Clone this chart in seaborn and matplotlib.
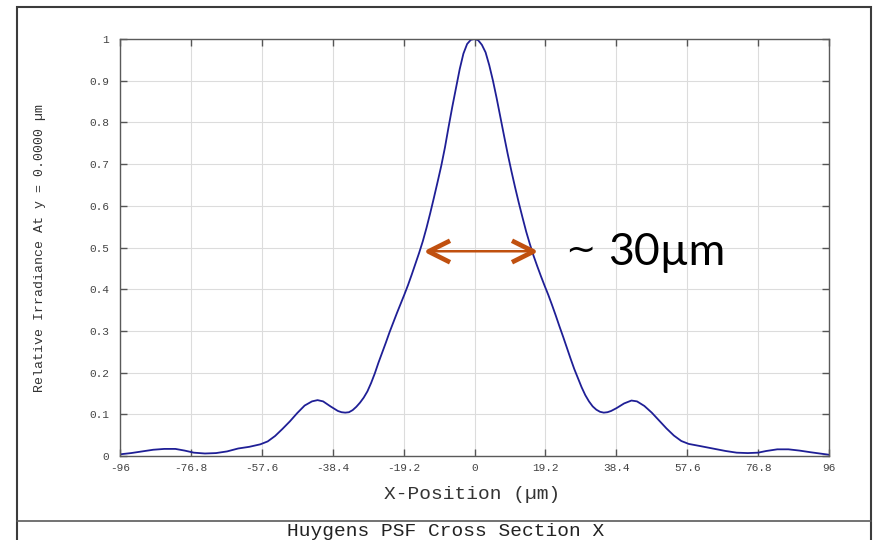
import numpy as np
import pandas as pd
import matplotlib
matplotlib.use("Agg")
import matplotlib.pyplot as plt
from matplotlib.patches import Rectangle
from matplotlib.lines import Line2D
from matplotlib.path import Path
import seaborn as sns

# Huygens PSF cross section along X (relative irradiance at y = 0)
x_pos = [-96, -93, -90, -87, -84, -81, -78.5, -76, -73, -70, -67, -64, -61, -58,
         -56, -54, -52, -50, -48, -46, -44, -42.5, -41, -39, -37,
         -36, -35, -34, -33, -32, -31, -30, -29, -28, -27, -26, -25, -24, -23,
         -22, -21, -20, -19, -18, -17, -16, -15, -14, -13, -12, -11, -10, -9,
         -8, -7, -6, -5, -4, -3, -2, -1, 0, 1, 2, 3, 4, 5, 6, 7, 8, 9, 10, 11,
         12, 13, 14, 15, 16, 17, 18, 19, 20, 21, 22, 23, 24, 25, 26, 27, 28, 29,
         30, 31, 32, 33, 34, 35, 36,
         37, 38.5, 40.5, 42.5, 44, 46, 48, 50, 52, 54, 56, 58, 61, 64.5, 68, 71,
         74, 76.8, 79, 82, 85, 88, 91, 93.5, 96]
irradiance = [0.004, 0.007, 0.011, 0.015, 0.017, 0.017, 0.013, 0.008, 0.006, 0.007,
              0.011, 0.018, 0.022, 0.028, 0.035, 0.048, 0.065, 0.083, 0.103, 0.121,
              0.131, 0.134, 0.131, 0.119, 0.108,
              0.105, 0.104, 0.105, 0.110, 0.118, 0.128, 0.140, 0.155, 0.175, 0.198,
              0.224, 0.248, 0.272, 0.297, 0.320, 0.343, 0.365, 0.387, 0.410, 0.435,
              0.461, 0.487, 0.515, 0.547, 0.582, 0.619, 0.657, 0.696, 0.740, 0.790,
              0.838, 0.883, 0.928, 0.965, 0.988, 0.998, 1.000,
              0.997, 0.986, 0.968, 0.937, 0.900, 0.858, 0.813, 0.768, 0.724, 0.683,
              0.644, 0.607, 0.572, 0.538, 0.508, 0.480, 0.455, 0.431, 0.408, 0.386,
              0.362, 0.337, 0.311, 0.286, 0.260, 0.234, 0.209, 0.187, 0.165, 0.146,
              0.131, 0.119, 0.111, 0.106, 0.104, 0.105,
              0.108, 0.115, 0.126, 0.133, 0.131, 0.120, 0.104, 0.085, 0.066, 0.049,
              0.036, 0.029, 0.024, 0.018, 0.012, 0.008, 0.007, 0.008, 0.012, 0.016,
              0.016, 0.013, 0.009, 0.006, 0.003]

x_ticks = [-96, -76.8, -57.6, -38.4, -19.2, 0, 19.2, 38.4, 57.6, 76.8, 96]
x_tick_labels = ["-96", "-76.8", "-57.6", "-38.4", "-19.2", "0",
                 "19.2", "38.4", "57.6", "76.8", "96"]
y_ticks = [0, 0.1, 0.2, 0.3, 0.4, 0.5, 0.6, 0.7, 0.8, 0.9, 1]
y_tick_labels = ["0", "0.1", "0.2", "0.3", "0.4", "0.5", "0.6", "0.7", "0.8", "0.9", "1"]

# half-maximum width marker
fwhm_left, fwhm_right, fwhm_level = -12.5, 15.9, 0.491
fwhm_approx = "~"
fwhm_text = "30µm"

df = pd.DataFrame({"x": x_pos, "irr": irradiance})

sns.set_theme(style="whitegrid")
plt.rcParams["font.family"] = ["Liberation Mono", "DejaVu Sans Mono"]

fig = plt.figure(figsize=(8.77, 5.40), dpi=100)
fig.patch.set_facecolor("white")
ax = fig.add_axes([120 / 877, 1 - 456 / 540, 709 / 877, 417 / 540])
ax.set_facecolor("white")

sns.lineplot(data=df, x="x", y="irr", ax=ax, color="#1f1f96", linewidth=1.3,
             sort=False, solid_joinstyle="round")

ax.set_xlim(-96, 96)
ax.set_ylim(0, 1)
ax.set_xticks(x_ticks)
ax.set_xticklabels(x_tick_labels)
ax.set_yticks(y_ticks)
ax.set_yticklabels(y_tick_labels)

ax.grid(True, color="#dcdcdc", linewidth=0.8)
for sp in ax.spines.values():
    sp.set_color("#5a5a5a")
    sp.set_linewidth(1.0)
    sp.set_visible(True)

ax.tick_params(axis="both", which="both", direction="in", length=5, width=1,
               color="#555555", labelcolor="#444444", labelsize=8,
               top=True, right=True, bottom=True, left=True)
ax.tick_params(axis="x", pad=5)
ax.tick_params(axis="y", pad=8)

ax.set_xlabel("X-Position (µm)", fontsize=14, color="#333333")
ax.xaxis.set_label_coords(0.497, -0.0935)
ax.xaxis.label.set_verticalalignment("center")
ax.set_ylabel("Relative Irradiance At y = 0.0000 µm", fontsize=9.5, color="#333333")
ax.yaxis.set_label_coords(-0.113, 0.5)
ax.yaxis.label.set_verticalalignment("center")

# FWHM arrow: thin shaft with heavy open chevron heads
arrow_col = "#c0500f"
ax.annotate("", xy=(fwhm_right, fwhm_level), xytext=(fwhm_left, fwhm_level),
            arrowprops=dict(arrowstyle="-", color=arrow_col, lw=1.8,
                            shrinkA=0, shrinkB=0))
left_head = Path([(1, 0.5), (0, 0), (1, -0.5)],
                 [Path.MOVETO, Path.LINETO, Path.LINETO])
right_head = Path([(-1, 0.5), (0, 0), (-1, -0.5)],
                  [Path.MOVETO, Path.LINETO, Path.LINETO])
for xv, head in ((fwhm_left, left_head), (fwhm_right, right_head)):
    ax.plot([xv], [fwhm_level], marker=head, markersize=31,
            markerfacecolor="none", markeredgecolor=arrow_col,
            markeredgewidth=3.4, linestyle="none")
ax.text(0.628, 0.469, fwhm_approx, transform=ax.transAxes, fontsize=26,
        family=["DejaVu Sans"], color="black", ha="left", va="baseline")
ax.text(0.6885, 0.4592, fwhm_text, transform=ax.transAxes, fontsize=32,
        family=["Lato", "DejaVu Sans"], color="black", ha="left",
        va="baseline")

# outer frame and bottom title strip
fig.add_artist(Rectangle((17 / 877, -0.1), (871 - 17) / 877, 1.1 - 7 / 540,
                         transform=fig.transFigure, fill=False,
                         edgecolor="#3c3c3c", linewidth=1.5, clip_on=False))
fig.add_artist(Line2D([17 / 877, 871 / 877], [1 - 520.5 / 540] * 2,
                      transform=fig.transFigure, color="#5a5a5a", linewidth=1.2))
fig.text(0.508, 1 - 531.5 / 540, "Huygens PSF Cross Section X", fontsize=14,
         color="#222222", ha="center", va="center")

fig.savefig("out.png", dpi=100, facecolor="white")
